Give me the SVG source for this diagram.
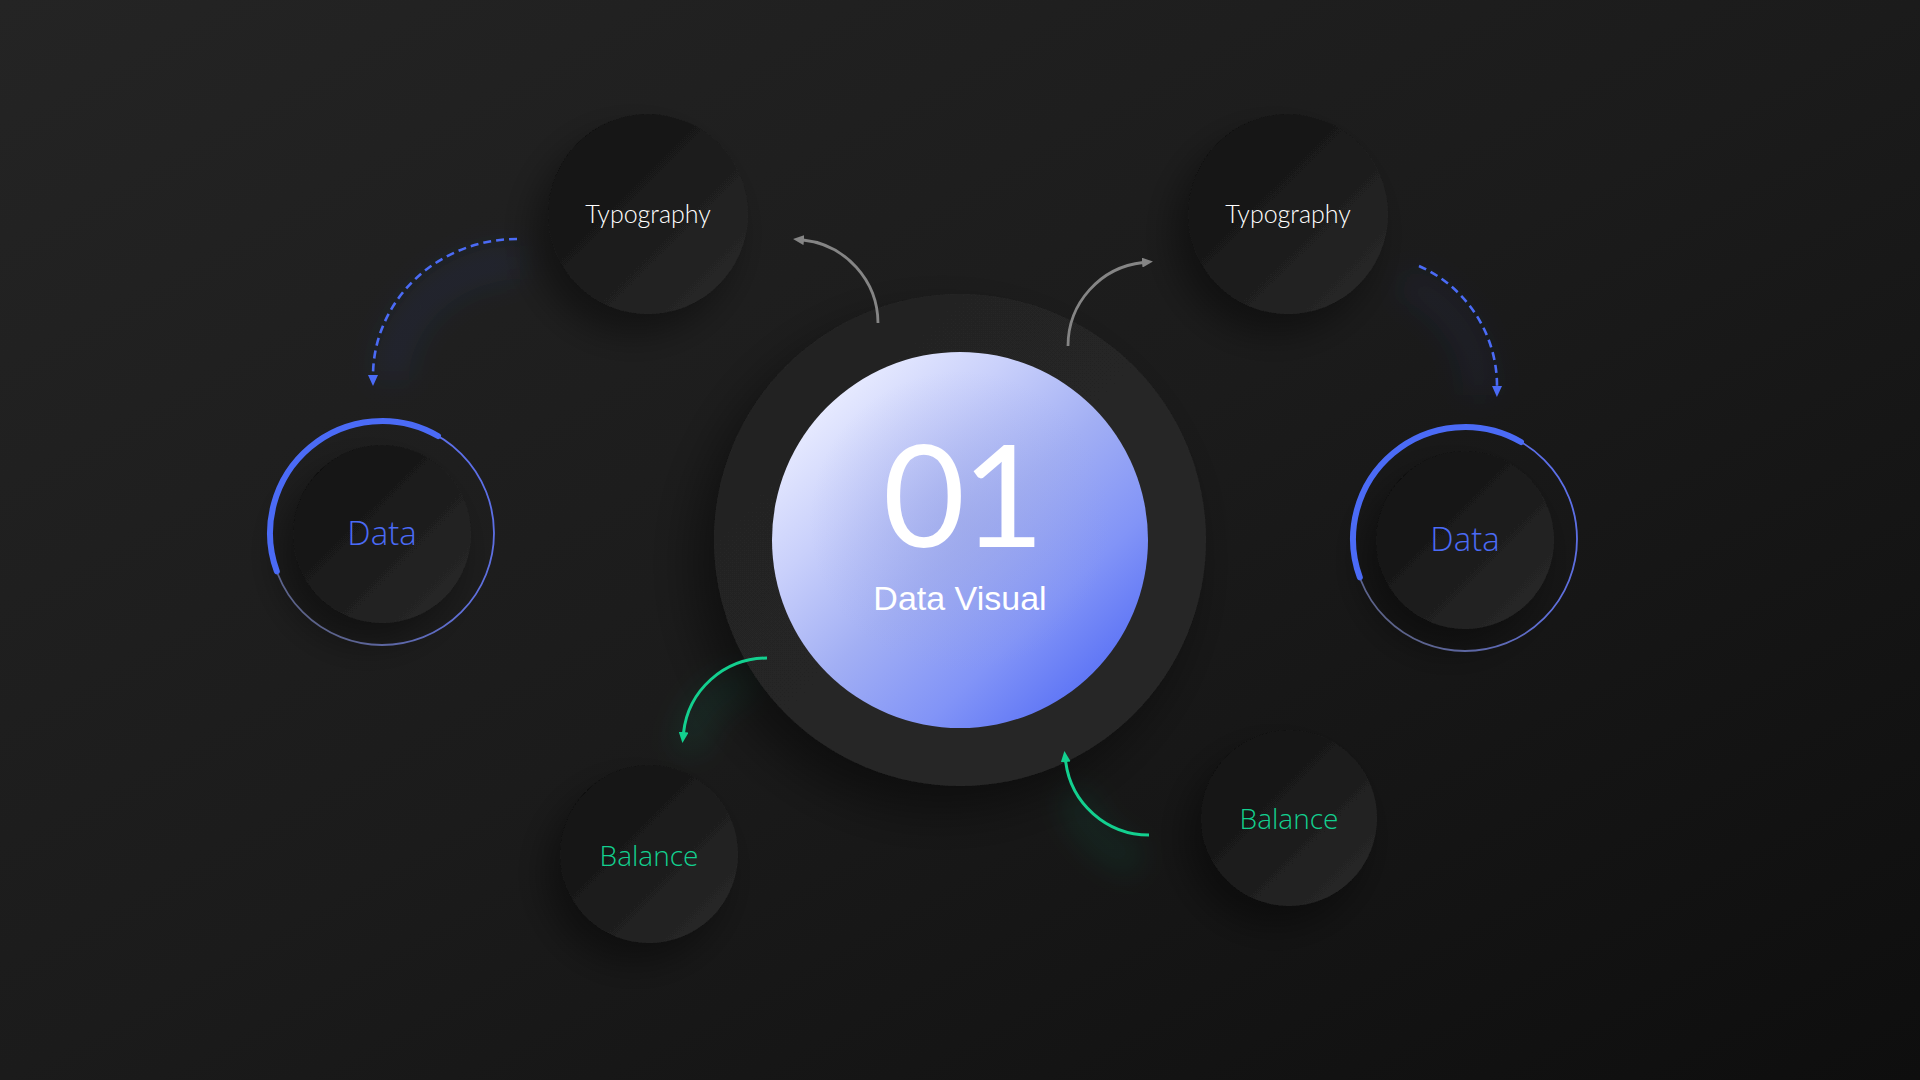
<svg xmlns="http://www.w3.org/2000/svg" width="1920" height="1080" viewBox="0 0 1920 1080">
  <defs>
    <linearGradient id="bg" x1="0" y1="0" x2="1" y2="1">
      <stop offset="0" stop-color="#242424"/>
      <stop offset="0.5" stop-color="#1b1b1b"/>
      <stop offset="1" stop-color="#0e0e0e"/>
    </linearGradient>
    <linearGradient id="nodeFill" x1="0.15" y1="0.15" x2="0.85" y2="0.85">
      <stop offset="0" stop-color="#121212"/>
      <stop offset="1" stop-color="#262626"/>
    </linearGradient>
    <linearGradient id="ringFill" x1="0" y1="0" x2="1" y2="1">
      <stop offset="0" stop-color="#232323"/>
      <stop offset="1" stop-color="#272727"/>
    </linearGradient>
    <linearGradient id="core" x1="0.12" y1="0.12" x2="0.88" y2="0.92">
      <stop offset="0" stop-color="#eaedff"/>
      <stop offset="0.25" stop-color="#c9d0fb"/>
      <stop offset="0.5" stop-color="#a2aff4"/>
      <stop offset="0.75" stop-color="#8294f7"/>
      <stop offset="1" stop-color="#566ef5"/>
    </linearGradient>
    <radialGradient id="coreShade" cx="0.5" cy="0.45" r="0.4">
      <stop offset="0" stop-color="#97a2e2" stop-opacity="0.45"/>
      <stop offset="1" stop-color="#97a2e2" stop-opacity="0"/>
    </radialGradient>
    <linearGradient id="thinRing" x1="0" y1="1" x2="1" y2="0">
      <stop offset="0" stop-color="#5a5d68"/>
      <stop offset="0.5" stop-color="#5f6fd8"/>
      <stop offset="1" stop-color="#5b6ff0"/>
    </linearGradient>
    <filter id="shadow" x="-50%" y="-50%" width="200%" height="200%">
      <feDropShadow dx="-14" dy="20" stdDeviation="18" flood-color="#000" flood-opacity="0.4"/>
    </filter>
    <filter id="bigShadow" x="-50%" y="-50%" width="200%" height="200%">
      <feDropShadow dx="-18" dy="24" stdDeviation="26" flood-color="#000" flood-opacity="0.45"/>
    </filter>
    <filter id="glow" x="-50%" y="-50%" width="200%" height="200%">
      <feGaussianBlur stdDeviation="14"/>
    </filter>
    <marker id="arrBlue" viewBox="0 0 11 10" markerWidth="11" markerHeight="10" refX="1" refY="5" orient="auto" markerUnits="userSpaceOnUse">
      <path d="M0,0 L11,5 L0,10 z" fill="#4b6bf6"/>
    </marker>
    <marker id="arrGray" viewBox="0 0 11 10" markerWidth="11" markerHeight="10" refX="1" refY="5" orient="auto" markerUnits="userSpaceOnUse">
      <path d="M0,0 L11,5 L0,10 z" fill="#858585"/>
    </marker>
    <marker id="arrGreen" viewBox="0 0 11 10" markerWidth="11" markerHeight="10" refX="1" refY="5" orient="auto" markerUnits="userSpaceOnUse">
      <path d="M0,0 L11,5 L0,10 z" fill="#13d08f"/>
    </marker>
  </defs>
  <style>
    .node { fill: url(#nodeFill); filter: url(#shadow); }
    .label-w { font-family: Lato, "Open Sans", sans-serif; font-weight: 300; font-size: 25px; fill: #ffffff; text-anchor: middle; }
    .label-b { font-family: "Open Sans", "Noto Sans", sans-serif; font-weight: 300; font-size: 33px; fill: #4b6bf6; text-anchor: middle; }
    .label-g { font-family: "Open Sans", "Noto Sans", sans-serif; font-weight: 300; font-size: 28px; fill: #13d08f; text-anchor: middle; }
    .dash { fill: none; stroke: #4b6bf6; stroke-width: 2.6; stroke-dasharray: 8 5; marker-end: url(#arrBlue); }
    .gray { fill: none; stroke: #858585; stroke-width: 2.8; marker-end: url(#arrGray); }
    .green { fill: none; stroke: #13d08f; stroke-width: 3; marker-end: url(#arrGreen); }
    .thin { fill: none; stroke: url(#thinRing); stroke-width: 1.8; }
    .thick { fill: none; stroke: #4b6bf6; stroke-width: 6; stroke-linecap: round; }
  </style>

  <rect width="1920" height="1080" fill="url(#bg)"/>

  <!-- soft glows behind connectors -->
  <g id="glows" filter="url(#glow)" fill="none">
    <path d="M520,262 A130,118 0 0 0 392,380" stroke="#4b6bf6" stroke-opacity="0.08" stroke-width="34"/>
    <path d="M1404,282 A120,120 0 0 1 1480,395" stroke="#4b6bf6" stroke-opacity="0.06" stroke-width="34"/>
    <path d="M755,682 A70,70 0 0 0 690,752" stroke="#13d08f" stroke-opacity="0.08" stroke-width="34"/>
    <path d="M1140,860 A84,84 0 0 1 1075,790" stroke="#13d08f" stroke-opacity="0.07" stroke-width="34"/>
  </g>

  <!-- central node -->
  <g id="node-center">
    <circle cx="960" cy="540" r="246" fill="url(#ringFill)" filter="url(#bigShadow)"/>
    <circle cx="960" cy="540" r="188" fill="url(#core)"/>
    <circle cx="960" cy="540" r="188" fill="url(#coreShade)"/>
    <text x="962" y="547" font-family="Lato, 'Open Sans', sans-serif" font-size="142" letter-spacing="-3" fill="#ffffff" text-anchor="middle">01</text>
    <text x="960" y="610" font-family="'Liberation Sans', Arial, sans-serif" font-size="34" fill="#ffffff" text-anchor="middle">Data Visual</text>
  </g>

  <!-- Typography left -->
  <g id="node-typography-left">
    <circle class="node" cx="648" cy="214" r="100"/>
    <text class="label-w" x="648" y="223">Typography</text>
  </g>

  <!-- Typography right -->
  <g id="node-typography-right">
    <circle class="node" cx="1288" cy="214" r="100"/>
    <text class="label-w" x="1288" y="223">Typography</text>
  </g>

  <!-- Data left -->
  <g id="node-data-left">
    <circle class="node" cx="382" cy="534" r="89"/>
    <circle class="thin" cx="382" cy="533" r="112"/>
    <path class="thick" d="M276.8,571.3 A112,112 0 0 1 438,436"/>
    <text class="label-b" x="382" y="545">Data</text>
  </g>

  <!-- Data right -->
  <g id="node-data-right">
    <circle class="node" cx="1465" cy="540" r="89"/>
    <circle class="thin" cx="1465" cy="539" r="112"/>
    <path class="thick" d="M1359.8,577.3 A112,112 0 0 1 1521,442"/>
    <text class="label-b" x="1465" y="551">Data</text>
  </g>

  <!-- Balance left -->
  <g id="node-balance-left">
    <circle class="node" cx="649" cy="854" r="89"/>
    <text class="label-g" x="649" y="866">Balance</text>
  </g>

  <!-- Balance right -->
  <g id="node-balance-right">
    <circle class="node" cx="1289" cy="818" r="88"/>
    <text class="label-g" x="1289" y="829">Balance</text>
  </g>

  <!-- connectors -->
  <g id="connectors">
    <path class="dash" d="M517,239 A144,137 0 0 0 373,376"/>
    <path class="dash" d="M1419,266 A131,131 0 0 1 1497,387"/>
    <path class="gray" d="M878,323 A84,84 0 0 0 803,240"/>
    <path class="gray" d="M1068,346 A84,84 0 0 1 1143,262.5"/>
    <path class="green" d="M767,658 A84,84 0 0 0 683.5,733"/>
    <path class="green" d="M1149,835 A84,84 0 0 1 1065.6,761"/>
  </g>
</svg>
